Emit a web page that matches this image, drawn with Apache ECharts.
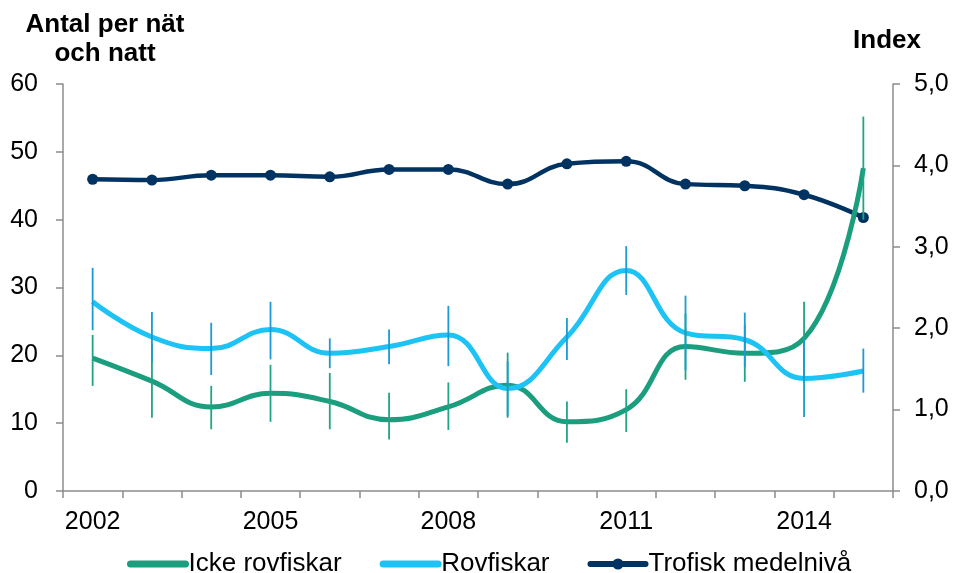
<!DOCTYPE html>
<html>
<head>
<meta charset="utf-8">
<script src="https://cdn.jsdelivr.net/npm/echarts@6/dist/echarts.min.js"></script>
<style>
html,body{margin:0;padding:0;background:#fff;}
#c{width:956px;height:573px;}
</style>
</head>
<body>
<div id="c"></div>
<script>
const categories = ['2002','2003','2004','2005','2006','2007','2008','2009','2010','2011','2012','2013','2014','2015'];
const icke     = [19.6, 16.2, 12.4, 14.4, 13.2, 10.5, 12.4, 15.6, 10.2, 12.0, 21.3, 20.3, 22.5, 47.6];
const ickeLow  = [15.5, 10.8,  9.1, 10.2,  9.1,  7.6,  9.0, 10.8,  7.1,  8.7, 16.4, 16.1, 16.1, 40.0];
const ickeHigh = [23.0, 21.6, 15.5, 18.6, 17.4, 14.5, 16.0, 20.4, 13.2, 15.0, 26.2, 24.5, 27.9, 55.2];
const rov      = [27.9, 22.7, 21.0, 23.8, 20.3, 21.3, 23.0, 15.1, 22.7, 32.5, 23.3, 22.3, 16.6, 17.7];
const rovLow   = [23.7, 19.0, 17.1, 19.4, 18.1, 18.7, 18.4, 11.1, 19.3, 28.9, 17.8, 18.3, 10.9, 14.5];
const rovHigh  = [32.9, 26.4, 24.8, 27.9, 22.5, 23.8, 27.3, 19.1, 25.5, 36.1, 28.8, 26.3, 22.3, 21.0];
const trofisk  = [3.83, 3.82, 3.88, 3.88, 3.86, 3.95, 3.95, 3.77, 4.02, 4.05, 3.77, 3.75, 3.64, 3.36];

const FONT = '"Liberation Sans", Arial, sans-serif';
const FS = 25;
const axisColor = '#8c8c8c';
const GREEN = '#1a9e7e', BLUE = '#1ec3f5', NAVY = '#003361';
const GREEN_BAR = '#1fa585', BLUE_BAR = '#1a9bd3';

function errData(lo, hi){ return categories.map((c,i)=>[i, lo[i], hi[i]]); }
function errRender(color){
  return function(params, api){
    const x = api.value(0);
    const a = api.coord([x, api.value(1)]);
    const b = api.coord([x, api.value(2)]);
    return {type:'line', shape:{x1:a[0],y1:a[1],x2:b[0],y2:b[1]}, style:{stroke:color, lineWidth:1.8}};
  };
}

const chart = echarts.init(document.getElementById('c'));
chart.setOption({
  animation:false,
  textStyle:{fontFamily:FONT},
  grid:{left:63, right:63, top:84, bottom:82, containLabel:false},
  graphic:[
    {type:'text', x:105, y:25, style:{text:'Antal per nät', font:'bold 26px '+FONT, fill:'#000', textAlign:'center', textVerticalAlign:'middle'}},
    {type:'text', x:105, y:54, style:{text:'och natt', font:'bold 26px '+FONT, fill:'#000', textAlign:'center', textVerticalAlign:'middle'}},
    {type:'text', x:887, y:41, style:{text:'Index', font:'bold 26px '+FONT, fill:'#000', textAlign:'center', textVerticalAlign:'middle'}}
  ],
  legend:{
    top:546, left:122,
    data:[
      {name:'Icke rovfiskar', itemStyle:{opacity:0}, lineStyle:{width:7, cap:'round'}},
      {name:'Rovfiskar', itemStyle:{opacity:0}, lineStyle:{width:7, cap:'round'}},
      {name:'Trofisk medelnivå', lineStyle:{width:6, cap:'round'}}
    ],
    itemWidth:55, itemHeight:14, itemGap:38,
    textStyle:{fontSize:26, color:'#000', fontFamily:FONT, padding:[0,0,0,-2]}
  },
  xAxis:{
    type:'category', data:categories, boundaryGap:true,
    axisLine:{lineStyle:{color:axisColor, width:1.5}},
    axisTick:{show:true, interval:0, length:7, lineStyle:{color:axisColor, width:1.5}},
    axisLabel:{interval:2, margin:19, fontSize:FS, color:'#000', fontFamily:FONT},
    splitLine:{show:false}
  },
  yAxis:[
    {type:'value', min:0, max:60, interval:10, position:'left',
     axisLine:{show:true, lineStyle:{color:axisColor, width:1.5}},
     axisTick:{show:true, length:7, lineStyle:{color:axisColor, width:1.5}},
     axisLabel:{margin:25, fontSize:FS, color:'#000', fontFamily:FONT},
     splitLine:{show:false}},
    {type:'value', min:0, max:5, interval:1, position:'right',
     axisLine:{show:true, lineStyle:{color:axisColor, width:1.5}},
     axisTick:{show:true, length:7, lineStyle:{color:axisColor, width:1.5}},
     axisLabel:{margin:21, fontSize:FS, color:'#000', fontFamily:FONT,
       formatter:v=>v.toFixed(1).replace('.',',')},
     splitLine:{show:false}}
  ],
  series:[
    {name:'Trofisk medelnivå', type:'line', yAxisIndex:1, data:trofisk, smooth:0.45,
     symbol:'circle', symbolSize:11, showSymbol:true,
     lineStyle:{color:NAVY, width:4.5}, itemStyle:{color:NAVY}, z:2},
    {name:'Icke rovfiskar', type:'line', data:icke, smooth:0.45, symbol:'none',
     lineStyle:{color:GREEN, width:5}, itemStyle:{color:GREEN}, z:3},
    {name:'Rovfiskar', type:'line', data:rov, smooth:0.45, symbol:'none',
     lineStyle:{color:BLUE, width:5}, itemStyle:{color:BLUE}, z:4},
    {name:'errIcke', type:'custom', data:errData(ickeLow, ickeHigh), encode:{x:0, y:[1,2]},
     renderItem:errRender(GREEN_BAR), z:5, silent:true},
    {name:'errRov', type:'custom', data:errData(rovLow, rovHigh), encode:{x:0, y:[1,2]},
     renderItem:errRender(BLUE_BAR), z:5, silent:true}
  ]
});
</script>
</body>
</html>
